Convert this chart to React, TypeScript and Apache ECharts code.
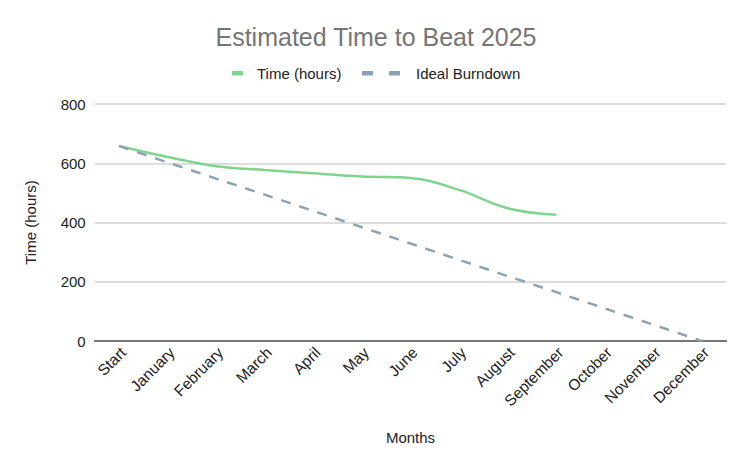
import React, { useEffect, useRef } from "react";
import * as echarts from "echarts";

const categories = ["Start", "January", "February", "March", "April", "May", "June", "July", "August", "September", "October", "November", "December"];
const timeHours = [658, 621, 590, 577, 566, 555, 550, 510, 448, 426];
const idealBurndown = [658, 603, 548, 494, 439, 384, 329, 274, 219, 165, 110, 55, 0];
const yTicks = [0, 200, 400, 600, 800];
const seriesNames = ["Time (hours)", "Ideal Burndown"];
const seriesColors = ["#7fd48f", "#8ea3b1"];

export default function App() {
  const ref = useRef<HTMLDivElement>(null);
  useEffect(() => {
    const chart = echarts.init(ref.current!, null, { renderer: "svg" });
    const font = "Arial, 'Liberation Sans', sans-serif";
    chart.setOption({
      animation: false,
      backgroundColor: "#ffffff",
      textStyle: { fontFamily: font },
      title: {
        text: "Estimated Time to Beat 2025",
        left: "center",
        top: 19,
        textStyle: { fontSize: 25, fontWeight: "normal", color: "#757575", fontFamily: font },
      },
      legend: { show: false },
      graphic: [
        { type: "rect", shape: { x: 232, y: 71, width: 11, height: 4.5 }, style: { fill: seriesColors[0] } },
        { type: "text", x: 257, y: 73, style: { text: seriesNames[0], fill: "#222222", fontSize: 15, fontFamily: font, verticalAlign: "middle" } },
        { type: "rect", shape: { x: 362, y: 71, width: 11, height: 4.5 }, style: { fill: seriesColors[1] } },
        { type: "rect", shape: { x: 389, y: 71, width: 11, height: 4.5 }, style: { fill: seriesColors[1] } },
        { type: "text", x: 416, y: 73, style: { text: seriesNames[1], fill: "#222222", fontSize: 15, fontFamily: font, verticalAlign: "middle" } },
      ],
      grid: { left: 94.7, right: 25.7, top: 104, bottom: 126, containLabel: false },
      xAxis: {
        type: "category",
        data: categories,
        boundaryGap: true,
        name: "Months",
        nameLocation: "middle",
        nameGap: 89,
        nameTextStyle: { fontSize: 15, color: "#222222", fontFamily: font },
        axisLine: { show: true, lineStyle: { color: "#777777", width: 2 } },
        axisTick: { show: false },
        axisLabel: { rotate: 45, fontSize: 15.5, color: "#222222", margin: 13, padding: [0, -6, 0, 0], interval: 0, fontFamily: font },
      },
      yAxis: {
        type: "value",
        min: yTicks[0],
        max: yTicks[yTicks.length - 1],
        interval: 200,
        name: "Time (hours)",
        nameLocation: "middle",
        nameGap: 57,
        nameTextStyle: { fontSize: 15, color: "#222222", fontFamily: font },
        axisLine: { show: false },
        axisTick: { show: false },
        axisLabel: { fontSize: 15, color: "#222222", margin: 9, fontFamily: font },
        splitLine: { lineStyle: { color: "#dddddd", width: 2 } },
      },
      series: [
        {
          name: seriesNames[0],
          type: "line",
          data: timeHours,
          smooth: 0.4,
          symbol: "none",
          itemStyle: { color: seriesColors[0] },
          lineStyle: { color: seriesColors[0], width: 2.5 },
        },
        {
          name: seriesNames[1],
          type: "line",
          data: idealBurndown,
          symbol: "none",
          itemStyle: { color: seriesColors[1] },
          lineStyle: { color: seriesColors[1], width: 2.5, type: [10, 9] },
        },
      ],
    });
    return () => chart.dispose();
  }, []);
  return (
    <div style={{ position: "fixed", left: 0, top: 0, width: 752, height: 467, boxSizing: "border-box", border: "1px solid #999999", borderTopWidth: 2, background: "#fff" }}>
      <div ref={ref} style={{ position: "absolute", left: -1, top: -2, width: 752, height: 467 }} />
    </div>
  );
}
